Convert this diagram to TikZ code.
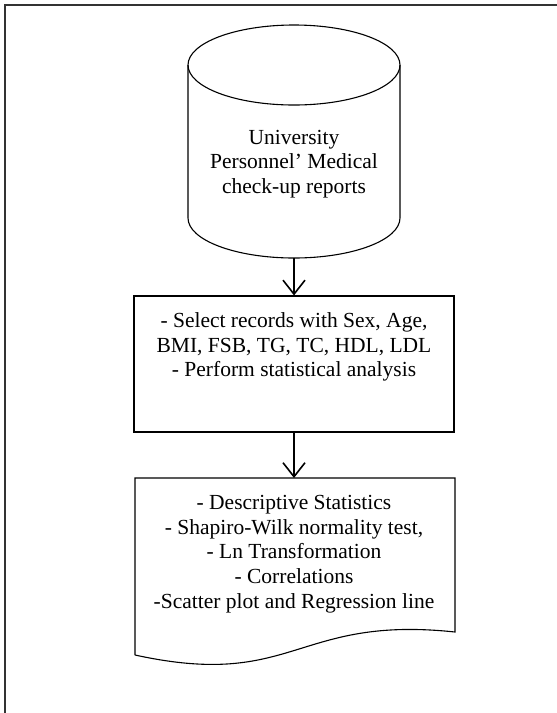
\documentclass[tikz,border=0pt]{standalone}
\usepackage{fontspec}
\setmainfont{Liberation Serif}
\usetikzlibrary{arrows.meta}
\begin{document}
\begin{tikzpicture}[x=1pt,y=-1pt,
  shapeline/.style={draw=black,line width=1.1pt},
  txt/.style={align=center,font=\fontsize{21.5}{24.8}\selectfont,inner sep=0pt},
  stepbox/.style={shapeline,minimum width=320pt,minimum height=136pt,inner sep=0pt},
  flow/.style={line width=1.6pt,-{Straight Barb[length=14pt,width=22pt,line width=1.6pt]}},
  frameline/.style={draw=black!80,line width=2pt}
]
\useasboundingbox (0,0) rectangle (557,713);
% frame (only top and left visible)
\draw[frameline] (5,713) -- (5,5) -- (557,5);
% database cylinder
\draw[shapeline] (188,65) -- (188,218) arc[start angle=180,end angle=0,x radius=106,y radius=40] -- (400,65);
\draw[shapeline] (294,65) ellipse[x radius=106,y radius=40];
\coordinate (dbbot) at (294,258);
\node[txt] (db) at (294,164) {University\\Personnel' Medical\\check-up reports};
% selection box
\node[stepbox] (sel) at (294,364) {};
\node[txt] (seltxt) at (294,347) {- Select records with Sex, Age,\\BMI, FSB, TG, TC, HDL, LDL\\- Perform statistical analysis};
% document shape
\draw[shapeline] (135,655) -- (135,478) -- (455,478) -- (455,632)
  .. controls (295,615) and (295,690) .. (135,655);
\coordinate (doctop) at (294,478);
\node[txt] (doc) at (294,554) {- Descriptive Statistics\\- Shapiro-Wilk normality test,\\- Ln Transformation\\- Correlations\\-Scatter plot and Regression line};
% connectors
\draw[flow] (dbbot) -- (sel.north);
\draw[flow] (sel.south) -- (doctop);
\end{tikzpicture}
\end{document}
